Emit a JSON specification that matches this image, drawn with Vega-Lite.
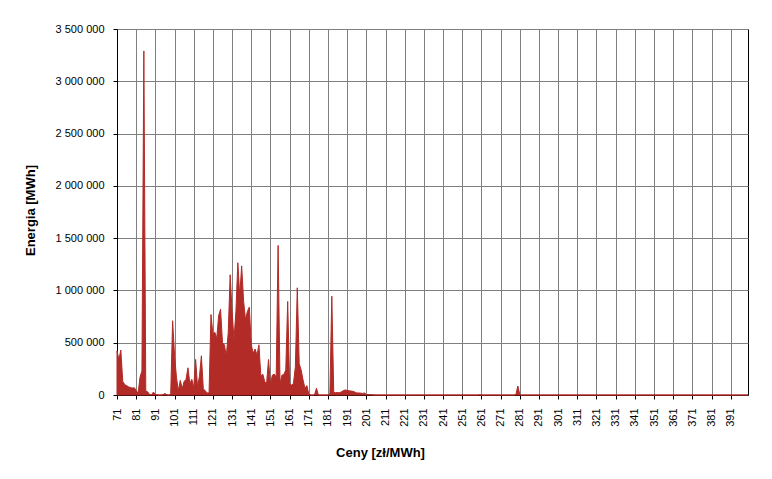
{
  "$schema": "https://vega.github.io/schema/vega-lite/v6.json",
  "autosize": {"type": "none"},
  "width": 631,
  "height": 366,
  "padding": {"left": 117, "top": 29, "right": 24, "bottom": 84},
  "background": "white",
  "config": {
    "font": "Liberation Sans",
    "view": {"stroke": "black", "strokeWidth": 1},
    "axis": {
      "labelFont": "Liberation Sans",
      "labelFontSize": 11,
      "labelColor": "black",
      "titleFont": "Liberation Sans",
      "titleFontSize": 13,
      "titleFontWeight": "bold",
      "titleColor": "black",
      "domainColor": "black",
      "tickColor": "black",
      "tickSize": 4,
      "gridColor": "#808080",
      "gridOpacity": 1,
      "gridWidth": 1
    }
  },
  "data": {"values": [
    {"c":71,"e":420000},{"c":72,"e":340000},{"c":73,"e":430000},{"c":74,"e":130000},{"c":75,"e":100000},
    {"c":76,"e":90000},{"c":77,"e":78000},{"c":78,"e":72000},{"c":79,"e":66000},{"c":80,"e":70000},
    {"c":81,"e":45000},{"c":82,"e":15000},{"c":83,"e":170000},{"c":84,"e":230000},{"c":85,"e":3290000},
    {"c":86,"e":40000},{"c":87,"e":30000},{"c":88,"e":5000},{"c":89,"e":2000},{"c":90,"e":28000},
    {"c":91,"e":5000},{"c":92,"e":2000},{"c":93,"e":0},{"c":94,"e":0},{"c":95,"e":3000},
    {"c":96,"e":15000},{"c":97,"e":2000},{"c":98,"e":0},{"c":99,"e":5000},{"c":100,"e":710000},
    {"c":101,"e":380000},{"c":102,"e":170000},{"c":103,"e":40000},{"c":104,"e":140000},{"c":105,"e":60000},
    {"c":106,"e":130000},{"c":107,"e":150000},{"c":108,"e":260000},{"c":109,"e":110000},{"c":110,"e":150000},
    {"c":111,"e":70000},{"c":112,"e":340000},{"c":113,"e":80000},{"c":114,"e":180000},{"c":115,"e":375000},
    {"c":116,"e":60000},{"c":117,"e":40000},{"c":118,"e":20000},{"c":119,"e":20000},{"c":120,"e":770000},
    {"c":121,"e":580000},{"c":122,"e":600000},{"c":123,"e":540000},{"c":124,"e":760000},{"c":125,"e":820000},
    {"c":126,"e":500000},{"c":127,"e":480000},{"c":128,"e":370000},{"c":129,"e":600000},{"c":130,"e":1150000},
    {"c":131,"e":800000},{"c":132,"e":530000},{"c":133,"e":800000},{"c":134,"e":1265000},{"c":135,"e":950000},
    {"c":136,"e":1235000},{"c":137,"e":900000},{"c":138,"e":720000},{"c":139,"e":800000},{"c":140,"e":840000},
    {"c":141,"e":480000},{"c":142,"e":400000},{"c":143,"e":440000},{"c":144,"e":380000},{"c":145,"e":480000},
    {"c":146,"e":180000},{"c":147,"e":200000},{"c":148,"e":130000},{"c":149,"e":110000},{"c":150,"e":340000},
    {"c":151,"e":100000},{"c":152,"e":190000},{"c":153,"e":200000},{"c":154,"e":170000},{"c":155,"e":1430000},
    {"c":156,"e":110000},{"c":157,"e":190000},{"c":158,"e":195000},{"c":159,"e":240000},{"c":160,"e":895000},
    {"c":161,"e":110000},{"c":162,"e":95000},{"c":163,"e":110000},{"c":164,"e":270000},{"c":165,"e":1025000},
    {"c":166,"e":300000},{"c":167,"e":240000},{"c":168,"e":145000},{"c":169,"e":65000},{"c":170,"e":90000},
    {"c":171,"e":10000},{"c":172,"e":0},{"c":173,"e":0},{"c":174,"e":2000},{"c":175,"e":65000},
    {"c":176,"e":0},{"c":177,"e":0},{"c":178,"e":0},{"c":179,"e":0},{"c":180,"e":0},
    {"c":181,"e":0},{"c":182,"e":10000},{"c":183,"e":945000},{"c":184,"e":25000},{"c":185,"e":22000},
    {"c":186,"e":24000},{"c":187,"e":22000},{"c":188,"e":30000},{"c":189,"e":42000},{"c":190,"e":48000},
    {"c":191,"e":45000},{"c":192,"e":40000},{"c":193,"e":38000},{"c":194,"e":35000},{"c":195,"e":28000},
    {"c":196,"e":20000},{"c":197,"e":20000},{"c":198,"e":18000},{"c":199,"e":15000},{"c":200,"e":20000},
    {"c":201,"e":4000},{"c":202,"e":5000},{"c":203,"e":4000},{"c":204,"e":3000},{"c":205,"e":1000},
    {"c":206,"e":0},{"c":207,"e":0},{"c":208,"e":0},{"c":209,"e":0},{"c":210,"e":0},
    {"c":211,"e":0},{"c":212,"e":0},{"c":213,"e":0},{"c":214,"e":0},{"c":215,"e":0},
    {"c":216,"e":0},{"c":217,"e":0},{"c":218,"e":0},{"c":219,"e":0},{"c":220,"e":0},
    {"c":221,"e":0},{"c":222,"e":0},{"c":223,"e":0},{"c":224,"e":0},{"c":225,"e":0},
    {"c":226,"e":0},{"c":227,"e":0},{"c":228,"e":0},{"c":229,"e":0},{"c":230,"e":0},
    {"c":231,"e":0},{"c":232,"e":0},{"c":233,"e":0},{"c":234,"e":0},{"c":235,"e":0},
    {"c":236,"e":0},{"c":237,"e":0},{"c":238,"e":0},{"c":239,"e":0},{"c":240,"e":0},
    {"c":241,"e":0},{"c":242,"e":0},{"c":243,"e":0},{"c":244,"e":0},{"c":245,"e":0},
    {"c":246,"e":0},{"c":247,"e":0},{"c":248,"e":0},{"c":249,"e":0},{"c":250,"e":0},
    {"c":251,"e":0},{"c":252,"e":0},{"c":253,"e":0},{"c":254,"e":0},{"c":255,"e":0},
    {"c":256,"e":0},{"c":257,"e":0},{"c":258,"e":0},{"c":259,"e":0},{"c":260,"e":3000},
    {"c":261,"e":0},{"c":262,"e":0},{"c":263,"e":0},{"c":264,"e":0},{"c":265,"e":0},
    {"c":266,"e":0},{"c":267,"e":0},{"c":268,"e":0},{"c":269,"e":0},{"c":270,"e":0},
    {"c":271,"e":0},{"c":272,"e":0},{"c":273,"e":0},{"c":274,"e":0},{"c":275,"e":0},
    {"c":276,"e":0},{"c":277,"e":0},{"c":278,"e":0},{"c":279,"e":5000},{"c":280,"e":86000},
    {"c":281,"e":5000},{"c":282,"e":0},{"c":283,"e":0},{"c":284,"e":0},{"c":285,"e":0},
    {"c":286,"e":0},{"c":287,"e":0},{"c":288,"e":0},{"c":289,"e":0},{"c":290,"e":0},
    {"c":291,"e":0},{"c":292,"e":0},{"c":293,"e":0},{"c":294,"e":0},{"c":295,"e":0},
    {"c":296,"e":0},{"c":297,"e":0},{"c":298,"e":0},{"c":299,"e":0},{"c":300,"e":0},
    {"c":301,"e":0},{"c":302,"e":0},{"c":303,"e":0},{"c":304,"e":0},{"c":305,"e":0},
    {"c":306,"e":0},{"c":307,"e":0},{"c":308,"e":0},{"c":309,"e":0},{"c":310,"e":0},
    {"c":311,"e":0},{"c":312,"e":0},{"c":313,"e":0},{"c":314,"e":0},{"c":315,"e":0},
    {"c":316,"e":0},{"c":317,"e":0},{"c":318,"e":0},{"c":319,"e":0},{"c":320,"e":0},
    {"c":321,"e":0},{"c":322,"e":0},{"c":323,"e":0},{"c":324,"e":0},{"c":325,"e":0},
    {"c":326,"e":0},{"c":327,"e":0},{"c":328,"e":0},{"c":329,"e":0},{"c":330,"e":0},
    {"c":331,"e":0},{"c":332,"e":0},{"c":333,"e":0},{"c":334,"e":0},{"c":335,"e":0},
    {"c":336,"e":0},{"c":337,"e":0},{"c":338,"e":0},{"c":339,"e":0},{"c":340,"e":0},
    {"c":341,"e":0},{"c":342,"e":0},{"c":343,"e":0},{"c":344,"e":0},{"c":345,"e":0},
    {"c":346,"e":0},{"c":347,"e":0},{"c":348,"e":0},{"c":349,"e":0},{"c":350,"e":0},
    {"c":351,"e":0},{"c":352,"e":0},{"c":353,"e":0},{"c":354,"e":0},{"c":355,"e":0},
    {"c":356,"e":0},{"c":357,"e":0},{"c":358,"e":0},{"c":359,"e":0},{"c":360,"e":0},
    {"c":361,"e":0},{"c":362,"e":0},{"c":363,"e":0},{"c":364,"e":0},{"c":365,"e":0},
    {"c":366,"e":0},{"c":367,"e":0},{"c":368,"e":0},{"c":369,"e":0},{"c":370,"e":0},
    {"c":371,"e":0},{"c":372,"e":0},{"c":373,"e":0},{"c":374,"e":0},{"c":375,"e":0},
    {"c":376,"e":0},{"c":377,"e":0},{"c":378,"e":0},{"c":379,"e":0},{"c":380,"e":0},
    {"c":381,"e":0},{"c":382,"e":0},{"c":383,"e":0},{"c":384,"e":0},{"c":385,"e":0},
    {"c":386,"e":0},{"c":387,"e":0},{"c":388,"e":0},{"c":389,"e":0},{"c":390,"e":0},
    {"c":391,"e":0},{"c":392,"e":0},{"c":393,"e":0},{"c":394,"e":0},{"c":395,"e":0},
    {"c":396,"e":0},{"c":397,"e":0},{"c":398,"e":0},{"c":399,"e":0},{"c":400,"e":0}
  ]},
  "mark": {"type": "area", "color": "#B22B27", "fillOpacity": 1, "stroke": "#B22B27", "strokeWidth": 1, "interpolate": "linear"},
  "encoding": {
    "x": {
      "field": "c",
      "type": "quantitative",
      "scale": {"domain": [71, 400], "nice": false, "zero": false},
      "axis": {
        "values": [71,81,91,101,111,121,131,141,151,161,171,181,191,201,211,221,231,241,251,261,271,281,291,301,311,321,331,341,351,361,371,381,391],
        "labelAngle": -90,
        "labelPadding": 9,
        "labelOverlap": false,
        "labelFlush": false,
        "labelBound": false,
        "grid": true,
        "title": "Ceny [zł/MWh]",
        "titleX": 263,
        "titleY": 57,
        "titleAlign": "center",
        "titleBaseline": "middle",
        "titleAnchor": null
      }
    },
    "y": {
      "field": "e",
      "type": "quantitative",
      "scale": {"domain": [0, 3500000], "nice": false},
      "axis": {
        "values": [0,500000,1000000,1500000,2000000,2500000,3000000,3500000],
        "labelExpr": "replace(format(datum.value, ',d'), /,/g, ' ')",
        "labelPadding": 9,
        "grid": true,
        "title": "Energia [MWh]",
        "titleX": -87,
        "titleY": 181,
        "titleAngle": -90,
        "titleAlign": "center",
        "titleBaseline": "middle"
      }
    }
  }
}
